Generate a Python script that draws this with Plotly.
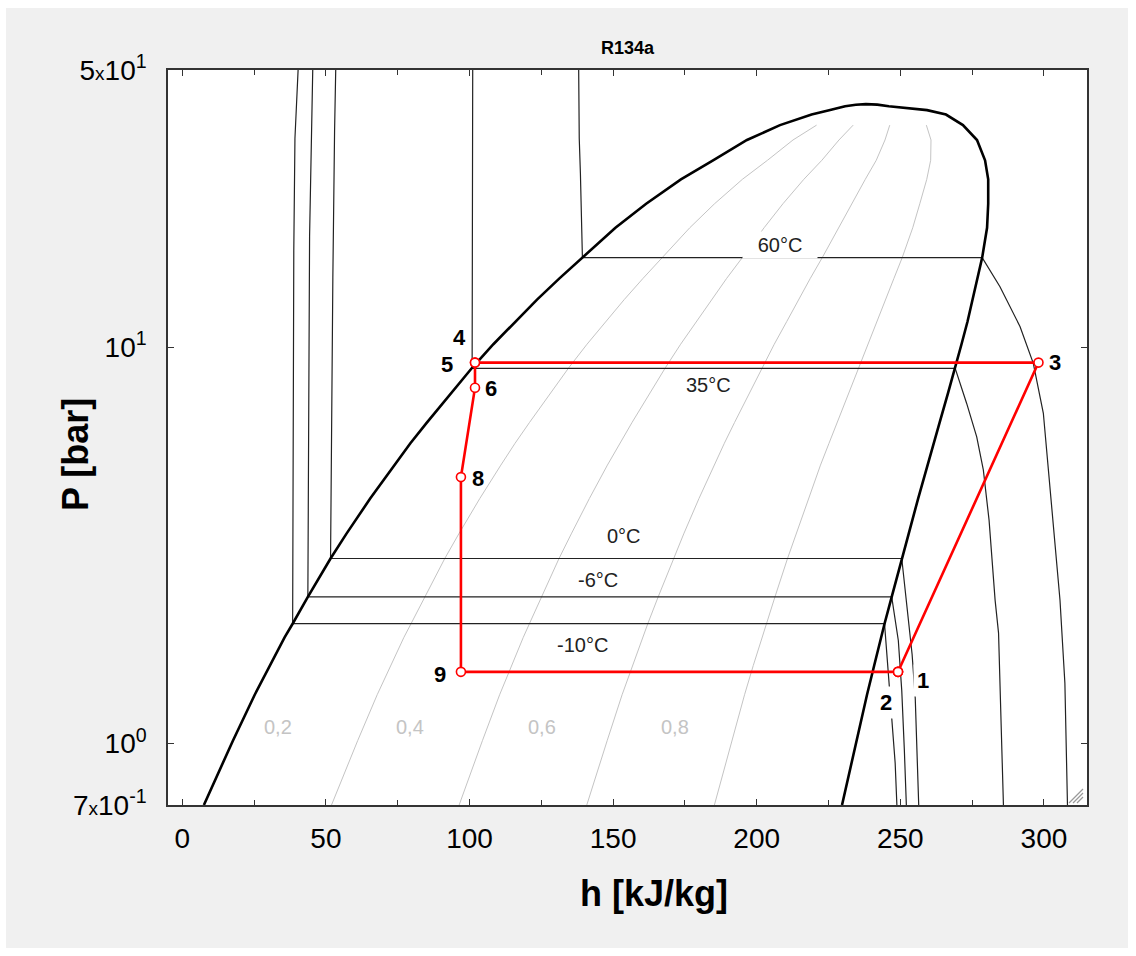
import numpy as np
import plotly.graph_objects as go

# ---------------- data (R134a, P in bar, h in kJ/kg) ----------------
# saturation table read from the dome
p_sat = [0.70, 0.844, 1.017, 1.328, 1.574, 1.854, 2.006, 2.344, 2.93, 3.38, 4.15, 5.04, 5.72, 6.46, 7.70,
         8.87, 10.17, 11.60, 13.18, 14.91, 16.82, 20.0, 23.0, 26.5, 29.6, 33.3, 36.3, 38.6, 39.6, 40.5]
hf_sat = [7.5, 12.5, 17.6, 25.2, 30.4, 35.6, 38.4, 43.7, 51.6, 57.1, 65.4, 73.8, 79.4, 85.2, 93.9,
          100.9, 108.3, 116.0, 123.5, 131.3, 139.3, 150.8, 161.5, 173.6, 184.8, 196.6, 208.1, 219.1, 225.2, 230.8]
hg_sat = [229.7, 232.2, 234.8, 238.4, 240.9, 243.4, 244.5, 247.0, 250.5, 252.9, 256.2, 259.3, 261.6, 263.7, 266.7,
          269.1, 271.3, 273.4, 275.3, 276.9, 278.5, 280.2, 280.6, 280.6, 279.5, 276.7, 271.8, 265.9, 259.3, 246.0]
h_cap = [234.5, 238.0, 242.0]
p_cap = [40.85, 41.0, 40.9]

# quality lines
qualities = [0.2, 0.4, 0.6, 0.8]
q_top_p = 36.3
q_labels = ["0,2", "0,4", "0,6", "0,8"]
q_label_h = [33.3, 79.4, 125.2, 171.5]
q_label_p = [1.10, 1.10, 1.10, 1.10]

# isotherms
iso_names = ["-10°C", "-6°C", "0°C", "35°C", "60°C"]
iso_h = {
    "-10°C": [40.3, 39.2, 38.8, 38.4, 244.5, 246.1, 247.0, 248.2, 248.8],
    "-6°C": [45.4, 45.0, 44.3, 43.7, 247.0, 249.3, 250.5, 251.4, 252.1],
    "0°C": [53.4, 53.0, 52.4, 51.6, 250.5, 254.1, 255.2, 256.4],
    "35°C": [101.1, 100.9, 269.1, 273.1, 276.6, 278.9, 280.9, 283.0, 284.2, 284.7, 285.3, 285.9],
    "60°C": [138.0, 138.2, 138.6, 139.1, 139.3, 278.5, 284.7, 291.7, 296.3, 299.8, 301.5, 303.5, 305.6,
             307.3, 308.0, 308.2],
}
iso_p = {
    "-10°C": [50, 33.6, 17.5, 2.006, 2.006, 1.42, 1.146, 0.893, 0.70],
    "-6°C": [50, 36, 19, 2.344, 2.344, 1.82, 1.36, 0.963, 0.70],
    "0°C": [50, 35, 15, 2.93, 2.93, 1.68, 1.30, 0.70],
    "35°C": [50, 8.84, 8.84, 7.21, 5.94, 4.90, 3.66, 2.30, 1.90, 1.45, 1.10, 0.70],
    "60°C": [50, 33.6, 27.5, 18.45, 16.82, 16.82, 14.2, 11.26, 9.10, 6.81, 4.90, 3.46, 2.30, 1.42,
             0.801, 0.70],
}
iso_label_h = [139.5, 144.7, 153.8, 183.1, 208.1]
iso_label_p = [1.772, 2.585, 3.34, 8.02, 18.09]

# refrigeration cycle states
cyc_labels = ["1", "2", "3", "4", "5", "6", "8", "9"]
cyc_h = [249.2, 249.2, 298.1, 101.9, 101.9, 101.9, 97.0, 97.0]
cyc_p = [1.517, 1.517, 9.14, 9.14, 9.14, 7.90, 4.70, 1.517]
cyc_label_shift = [(25, -9), (-12, -31), (17, 0), (-16, 25), (-28, -2), (16, -1), (17, -1), (-21, -3)]

x_ticks = [0, 50, 100, 150, 200, 250, 300]
y_ticks = [0.7, 1, 10, 50]
y_ticktext = ["7<span style='font-size:19px'>x</span>10<sup>-1</sup>",
              "10<sup>0</sup>", "10<sup>1</sup>",
              "5<span style='font-size:19px'>x</span>10<sup>1</sup>"]

FONT = "Liberation Sans, Arial, sans-serif"

# plot-area pixel geometry (used only for placing decorations)
L, R, T, B = 168, 1087, 70, 805
PW, PH = R - L, B - T


def px(x):
    return (x - L) / PW


def py(y):
    return (B - y) / PH


fig = go.Figure()

# quality lines
for q in qualities:
    hs, ps = [], []
    for p, a, b in zip(p_sat, hf_sat, hg_sat):
        if p <= q_top_p:
            hs.append(a + q * (b - a))
            ps.append(p)
    fig.add_trace(go.Scatter(x=hs, y=ps, mode="lines", line=dict(color="#c4c4c4", width=1),
                             hoverinfo="skip", showlegend=False))

# isotherms
for name in iso_names:
    fig.add_trace(go.Scatter(x=iso_h[name], y=iso_p[name], mode="lines",
                             line=dict(color="#222222", width=1.2), hoverinfo="skip", showlegend=False))

# saturation dome
dome_h = hf_sat + h_cap + hg_sat[::-1]
dome_p = p_sat + p_cap + p_sat[::-1]
fig.add_trace(go.Scatter(x=dome_h, y=dome_p, mode="lines", line=dict(color="black", width=2.6),
                         hoverinfo="skip", showlegend=False))

# cycle
order = [0, 1, 2, 3, 4, 5, 6, 7, 0]
fig.add_trace(go.Scatter(x=[cyc_h[i] for i in order], y=[cyc_p[i] for i in order], mode="lines+markers",
                         line=dict(color="#ff0000", width=2.6),
                         marker=dict(symbol="circle", size=9, color="white", line=dict(color="#ff0000", width=1.6)),
                         hoverinfo="skip", showlegend=False))

ann = []
for t, h, p in zip(q_labels, q_label_h, q_label_p):
    ann.append(dict(x=h, y=np.log10(p), xref="x", yref="y", text=t, showarrow=False,
                    xanchor="center", yanchor="middle",
                    font=dict(family=FONT, size=20, color="#c4c4c4")))
for t, h, p in zip(iso_names, iso_label_h, iso_label_p):
    a = dict(x=h, y=np.log10(p), xref="x", yref="y", text=t, showarrow=False,
             xanchor="center", yanchor="middle",
             font=dict(family=FONT, size=20, color="#222222"))
    if t == "60°C":
        a.update(bgcolor="white", width=70, borderpad=2)
    ann.append(a)
for t, h, p, (dx, dy) in zip(cyc_labels, cyc_h, cyc_p, cyc_label_shift):
    a = dict(x=h, y=np.log10(p), xref="x", yref="y", text="<b>%s</b>" % t, showarrow=False,
             xanchor="center", yanchor="middle",
             xshift=dx, yshift=dy, font=dict(family=FONT, size=22, color="black"))
    if t in ("1", "2"):
        a.update(bgcolor="white", borderpad=3)
    ann.append(a)

# titles
ann.append(dict(x=0.5, y=py(48), xref="paper", yref="paper", text="<b>R134a</b>", showarrow=False,
                xanchor="center", yanchor="middle", font=dict(family=FONT, size=18, color="black")))
ann.append(dict(x=px(654), y=py(893), xref="paper", yref="paper", text="<b>h [kJ/kg]</b>",
                xanchor="center", yanchor="middle",
                showarrow=False, font=dict(family=FONT, size=36, color="black")))
ann.append(dict(x=px(75), y=py(455), xref="paper", yref="paper", text="<b>P [bar]</b>",
                xanchor="center", yanchor="middle",
                showarrow=False, textangle=-90, font=dict(family=FONT, size=36, color="black")))

shapes = []
for (x0, x1, y0, y1) in [(0, 6, 0, 956), (1128, 1136, 0, 956), (0, 1136, 0, 8), (0, 1136, 948, 956)]:
    shapes.append(dict(type="rect", xref="paper", yref="paper", layer="below",
                       x0=px(x0), x1=px(x1), y0=py(y1), y1=py(y0),
                       fillcolor="white", line=dict(width=0)))
# window resize grip in the lower-right corner
for (xa, ya, xb, yb) in [(1069, 803, 1083, 789), (1073, 803, 1083, 793), (1077, 803, 1083, 797)]:
    shapes.append(dict(type="line", xref="paper", yref="paper", layer="above",
                       x0=px(xa), y0=py(ya), x1=px(xb), y1=py(yb),
                       line=dict(color="#9a9a9a", width=1.2)))

fig.update_layout(
    width=1136, height=956,
    margin=dict(l=L, r=1136 - R, t=T, b=956 - B),
    paper_bgcolor="#f0f0f0", plot_bgcolor="white",
    showlegend=False,
    annotations=ann, shapes=shapes,
    font=dict(family=FONT, color="black"),
)
fig.update_xaxes(range=[-5, 315], tickvals=x_ticks, ticks="inside", ticklen=6, tickwidth=1, tickcolor="#333",
                 showline=True, linecolor="#333", linewidth=1.5, mirror="allticks",
                 minor=dict(dtick=25, tick0=0, ticks="inside", ticklen=5, tickcolor="#333"),
                 showgrid=False, zeroline=False, tickfont=dict(family=FONT, size=28, color="black"),
                 ticklabelstandoff=8)
fig.update_yaxes(type="log", range=[np.log10(0.7), np.log10(50)], tickvals=y_ticks, ticktext=y_ticktext,
                 ticks="inside", ticklen=6, tickwidth=1, tickcolor="#333",
                 showline=True, linecolor="#333", linewidth=1.5, mirror="allticks",
                 showgrid=False, zeroline=False, tickfont=dict(family=FONT, size=28, color="black"),
                 ticklabelstandoff=14)

fig.write_html("out.html")
